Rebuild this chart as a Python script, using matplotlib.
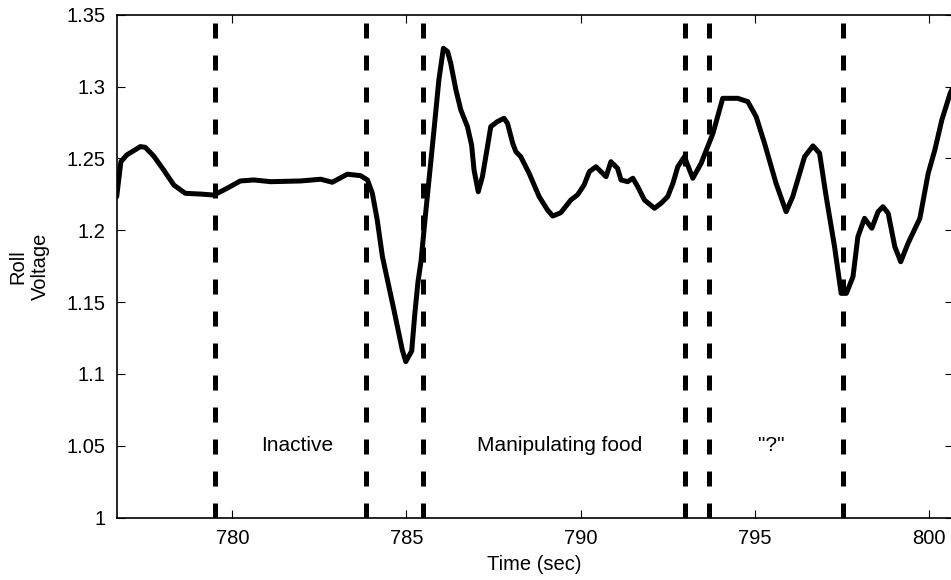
import matplotlib.pyplot as plt

plt.rcParams['font.family'] = ['Liberation Sans', 'DejaVu Sans']

# Roll sensor trace (time in sec, voltage)
time_sec = [776.68, 776.80, 776.97, 777.36, 777.50, 777.74, 778.03, 778.32, 778.65,
            779.08, 779.47, 779.85, 780.23, 780.62, 781.10, 781.96, 782.54, 782.87,
            783.30, 783.68, 783.88, 784.02, 784.16, 784.31, 784.64, 784.88, 784.98,
            785.15, 785.24, 785.33, 785.42, 785.55, 785.79, 785.93, 786.06, 786.18,
            786.27, 786.42, 786.56, 786.75, 786.87, 786.94, 787.06, 787.18, 787.31,
            787.42, 787.61, 787.80, 787.90, 788.05, 788.14, 788.28, 788.52, 788.81,
            789.05, 789.20, 789.43, 789.72, 789.91, 790.10, 790.25, 790.44, 790.73,
            790.87, 791.06, 791.16, 791.35, 791.50, 791.64, 791.83, 792.12, 792.31,
            792.50, 792.65, 792.79, 792.98, 793.22, 793.46, 793.80, 794.08, 794.51,
            794.80, 795.04, 795.28, 795.61, 795.90, 796.09, 796.43, 796.67, 796.86,
            797.05, 797.29, 797.48, 797.63, 797.82, 797.96, 798.15, 798.36, 798.54,
            798.68, 798.83, 799.02, 799.19, 799.40, 799.74, 799.98, 800.17, 800.37,
            800.61, 800.68]
roll_volt = [1.2234, 1.2477, 1.2524, 1.2582, 1.2577, 1.2517, 1.2419, 1.2315, 1.2257,
             1.2252, 1.2245, 1.2292, 1.2343, 1.2350, 1.2338, 1.2343, 1.2355, 1.2334,
             1.2390, 1.2380, 1.2350, 1.2257, 1.2072, 1.1816, 1.1445, 1.1167, 1.1086,
             1.1160, 1.1420, 1.1640, 1.1790, 1.2118, 1.2698, 1.3046, 1.3266, 1.3243,
             1.3162, 1.2976, 1.2837, 1.2721, 1.2593, 1.2419, 1.2268, 1.2373, 1.2559,
             1.2721, 1.2756, 1.2779, 1.2744, 1.2605, 1.2547, 1.2512, 1.2397, 1.2234,
             1.2141, 1.2099, 1.2122, 1.2211, 1.2246, 1.2315, 1.2408, 1.2442, 1.2373,
             1.2477, 1.2431, 1.2350, 1.2338, 1.2362, 1.2303, 1.2211, 1.2153, 1.2188,
             1.2234, 1.2327, 1.2442, 1.2512, 1.2362, 1.2466, 1.2675, 1.2918, 1.2918,
             1.2895, 1.2790, 1.2605, 1.2327, 1.2129, 1.2234, 1.2512, 1.2587, 1.2536,
             1.2234, 1.1886, 1.1561, 1.1561, 1.1677, 1.1955, 1.2083, 1.2014, 1.2129,
             1.2164, 1.2118, 1.1886, 1.1781, 1.1909, 1.2083, 1.2397, 1.2559, 1.2767,
             1.2953, 1.2990]

# behaviour boundaries and labels
event_times = [779.49, 783.85, 785.47, 793.01, 793.68, 797.53]
phase_labels = ['Inactive', 'Manipulating food', '"?"']
phase_x = [781.87, 789.40, 795.47]
phase_y = 1.05

fig = plt.figure(figsize=(9.51, 5.8), dpi=100)
ax = fig.add_axes([0.1227, 0.1074, 0.8790, 0.8673])

ax.plot(time_sec, roll_volt, color='black', lw=3.6, solid_joinstyle='round',
        solid_capstyle='round', zorder=3)

for t in event_times:
    ax.plot([t, t], [1.0, 1.35], color='black', lw=3.6,
            linestyle=(0, (3.0, 3.4)), dash_capstyle='butt', zorder=2)

for lbl, x in zip(phase_labels, phase_x):
    ax.text(x, phase_y, lbl, ha='center', va='center', fontsize=15)

ax.set_xlim(776.68, 800.68)
ax.set_ylim(1.0, 1.35)
ax.set_xticks([780, 785, 790, 795, 800])
ax.set_yticks([1, 1.05, 1.1, 1.15, 1.2, 1.25, 1.3, 1.35])
ax.set_yticklabels(['1', '1.05', '1.1', '1.15', '1.2', '1.25', '1.3', '1.35'])
ax.tick_params(direction='in', length=6, width=0.8, labelsize=14.5,
               top=True, right=True, pad=8)
for sp in ax.spines.values():
    sp.set_linewidth(1.2)

ax.set_xlabel('Time (sec)', fontsize=14.5, labelpad=5)
ax.set_ylabel('Roll\nVoltage', fontsize=14.5, labelpad=12)

fig.savefig('out.png', dpi=100)
